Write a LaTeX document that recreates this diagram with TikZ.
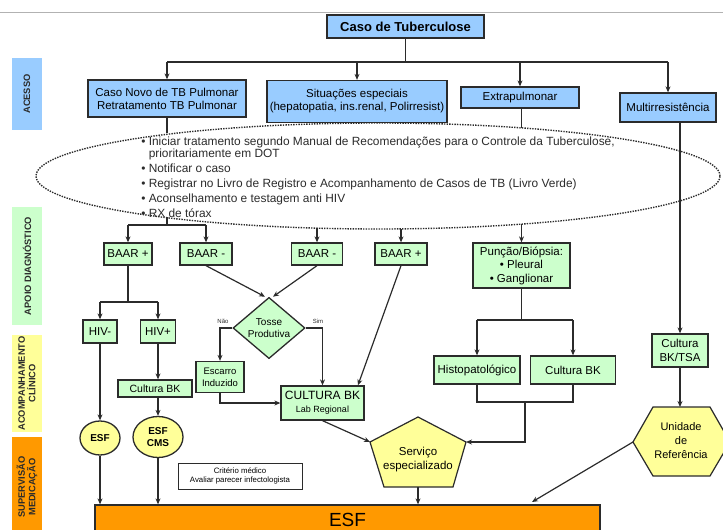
\documentclass[tikz,border=0pt]{standalone}
\usepackage{fontspec}
\setmainfont{Liberation Sans}
\usetikzlibrary{shapes.geometric, arrows.meta, calc}

\definecolor{azul}{HTML}{99CCFF}
\definecolor{verde}{HTML}{CCFFCC}
\definecolor{amarelo}{HTML}{FFFF99}
\definecolor{laranja}{HTML}{FF9900}
\definecolor{traco}{HTML}{2B2B2B}

\begin{document}
\begin{tikzpicture}[x=1pt, y=-1pt,
    caixa/.style={draw=traco, line width=1.3pt, inner sep=0pt, align=center,
        font=\fontsize{11.5}{13}\selectfont},
    acesso/.style={caixa, fill=azul},
    apoio/.style={caixa, fill=verde},
    bolha/.style={draw=traco, line width=1.3pt, ellipse, fill=amarelo, inner sep=0pt,
        align=center, font=\fontsize{10}{12}\selectfont\bfseries},
    faixa/.style={rotate=90, inner sep=0pt, minimum height=30pt, align=center,
        text=traco, font=\fontsize{9.3}{10.5}\selectfont\bfseries},
    linha/.style={draw=traco, line width=1.2pt},
    seta/.style={linha, -{Stealth[length=6pt, width=5pt]}},
    pontos/.style={draw=traco, line width=1.4pt, dash pattern=on 1.4pt off 1.2pt}
]
        % Moldura
        \useasboundingbox (0,0) rectangle (723,530);
        \clip (0,0) rectangle (723,530);
        \draw[gray!60, line width=0.8pt] (0,12) -- (723,12);

        % Faixas laterais
        \node[faixa, fill=azul, minimum width=72pt] (facesso) at (27,94) {ACESSO};
        \node[faixa, fill=verde, minimum width=118pt] (fapoio) at (27,266) {APOIO DIAGNÓSTICO};
        \node[faixa, fill=amarelo, minimum width=97pt] (facomp) at (27,383.5) {ACOMPANHAMENTO\\CLÍNICO};
        \node[faixa, fill=laranja, minimum width=100pt] (fsuperv) at (27,487) {SUPERVISÃO\\MEDICAÇÃO};

        % Acesso
        \node[acesso, font=\fontsize{13}{14}\selectfont\bfseries, minimum width=157pt, minimum height=23pt] (topo) at (405.5,26.5) {Caso de Tuberculose};
        \node[acesso, minimum width=158pt, minimum height=37pt] (cnovo) at (167,98.5) {Caso Novo de TB Pulmonar\\Retratamento TB Pulmonar};
        \node[acesso, minimum width=180pt, minimum height=42pt] (sitesp) at (357,101.5) {Situações especiais\\(hepatopatia, ins.renal, Polirresist)};
        \node[acesso, minimum width=118pt, minimum height=21pt] (extra) at (520,97.5) {Extrapulmonar};
        \node[acesso, minimum width=96pt, minimum height=29pt] (multi) at (668,107.5) {Multirresistência};

        \coordinate (barra) at (0,62);
        \draw[linha] (topo.south) -- (topo.south |- barra);
        \draw[linha] (cnovo |- barra) -- (multi |- barra);
        \foreach \n in {cnovo,sitesp,extra,multi}
            \draw[seta] (\n |- barra) -- (\n.north);

        % Condutas
        \node[ellipse, pontos, minimum width=684pt, minimum height=106pt, inner sep=0pt, outer sep=0pt] (acoes) at (378,176) {};
        \node[align=left, text=traco, font=\fontsize{11.9}{15}\selectfont] (lista) at (378,177) {%
            \textbullet\ Iniciar tratamento segundo Manual de Recomendações para o Controle da Tuberculose,\\[-3pt]
            \hphantom{\textbullet\ }prioritariamente em DOT\\
            \textbullet\ Notificar o caso\\
            \textbullet\ Registrar no Livro de Registro e Acompanhamento de Casos de TB (Livro Verde)\\
            \textbullet\ Aconselhamento e testagem anti HIV\\
            \textbullet\ RX de tórax};

        % Apoio diagnostico
        \node[apoio, minimum width=48pt, minimum height=22pt] (baar1) at (128,254) {BAAR +};
        \node[apoio, minimum width=52pt, minimum height=22pt] (baar2) at (206,254) {BAAR -};
        \node[apoio, minimum width=51pt, minimum height=22pt] (baar3) at (317,254) {BAAR -};
        \node[apoio, minimum width=52pt, minimum height=22pt] (baar4) at (401,254) {BAAR +};
        \node[apoio, minimum width=97pt, minimum height=45pt, font=\fontsize{11.5}{13.5}\selectfont] (puncao) at (521.5,265.5) {Punção/Biópsia:\\\textbullet\ Pleural\\\textbullet\ Ganglionar};
        \node[apoio, diamond, minimum width=72pt, minimum height=50pt, font=\fontsize{10}{12}\selectfont] (tosse) at (269,328) {Tosse\\Produtiva};
        \node[font=\fontsize{6}{7}\selectfont, text=traco] (nao) at (223,321) {Não};
        \node[font=\fontsize{6}{7}\selectfont, text=traco] (sim) at (318,321) {Sim};

        \draw[linha] (extra.south -| puncao) -- (puncao |- acoes.18.1);
        \draw[linha] (cnovo.south) -- (cnovo |- acoes.168.6);
        \coordinate (baarbar) at (0,225);
        \draw[linha] (cnovo |- acoes.191.4) -- (cnovo |- baarbar);
        \draw[linha] (baar1 |- baarbar) -- (baar2 |- baarbar);
        \draw[seta] (baar1 |- baarbar) -- (baar1.north);
        \draw[seta] (baar2 |- baarbar) -- (baar2.north);
        \draw[seta] (baar3 |- acoes.222) -- (baar3.north);
        \draw[seta] (baar4 |- acoes.296.2) -- (baar4.north);
        \draw[seta] (puncao |- acoes.341.9) -- (puncao.north);

        % Acompanhamento clinico
        \node[apoio, minimum width=34pt, minimum height=23pt] (hivn) at (100,331.5) {HIV-};
        \node[apoio, minimum width=35pt, minimum height=23pt] (hivp) at (158,331.5) {HIV+};
        \node[apoio, minimum width=74pt, minimum height=17pt, font=\fontsize{10.5}{12}\selectfont] (cbk1) at (155,388.5) {Cultura BK};
        \node[apoio, minimum width=48pt, minimum height=31pt, font=\fontsize{9.5}{12}\selectfont] (escarro) at (220,377) {Escarro\\Induzido};
        \node[apoio, minimum width=83pt, minimum height=34pt] (clab) at (322.5,403) {{\fontsize{12}{13}\selectfont CULTURA BK}\\{\fontsize{9}{10}\selectfont Lab Regional}};
        \node[apoio, minimum width=86pt, minimum height=28pt] (histo) at (477,370) {Histopatológico};
        \node[apoio, minimum width=85pt, minimum height=28pt] (cbk2) at (573,370) {Cultura BK};
        \node[apoio, minimum width=56pt, minimum height=33pt, font=\fontsize{11.5}{14}\selectfont] (tsa) at (680,350.5) {Cultura\\BK/TSA};
        \node[bolha, minimum width=40pt, minimum height=34pt] (esf1) at (100,438) {ESF};
        \node[bolha, minimum width=50pt, minimum height=41pt] (esf2) at (158,437) {ESF\\CMS};
        \node[draw=traco, line width=0.9pt, minimum width=124pt, minimum height=26pt, align=center, font=\fontsize{7.8}{9}\selectfont] (nota) at (240,476) {Critério médico\\Avaliar parecer infectologista};

        % Servico especializado
        \coordinate (pTopo) at (418,417);
        \coordinate (pDir) at (466,442);
        \coordinate (pBd) at (453,487);
        \coordinate (pBe) at (384,487);
        \coordinate (pEsq) at (370,442);
        \coordinate (pBase) at (418,487);
        \draw[linha, fill=amarelo] (pTopo) -- (pDir) -- (pBd) -- (pBe) -- (pEsq) -- cycle;
        \node[align=center, font=\fontsize{11.5}{14}\selectfont] (servico) at (418,460) {Serviço\\especializado};

        % Unidade de referencia
        \coordinate (hEsq) at (633,442);
        \coordinate (hTopo) at (680,407);
        \draw[linha, fill=amarelo] (hEsq) -- (653,407) -- (710,407) -- (730,442) -- (710,476) -- (653,476) -- cycle;
        \node[align=center, font=\fontsize{11}{14}\selectfont] (uref) at (681,441) {Unidade\\de\\Referência};

        \coordinate (hivbar) at (0,302);
        \draw[linha] (baar1.south) -- (baar1 |- hivbar);
        \draw[linha] (hivn |- hivbar) -- (hivp |- hivbar);
        \draw[seta] (hivn |- hivbar) -- (hivn.north);
        \draw[seta] (hivp |- hivbar) -- (hivp.north);
        \draw[seta] (baar2.south) -- ([xshift=-4pt]tosse.north);
        \draw[seta] (baar3.south) -- ([xshift=4pt]tosse.north);
        \draw[seta] (tosse.west) -| (escarro.north);
        \draw[seta] (tosse.east) -| (clab.north);
        \draw[seta] (escarro.south) |- (clab.west);
        \draw[seta] (baar4.south) -- ($(clab.north east)!0.08!(clab.north west)$);
        \draw[seta] (hivp.south) -- (hivp |- cbk1.north);
        \draw[seta] (hivp |- cbk1.south) -- (esf2.north);
        \draw[seta] (hivn.south) -- (esf1.north);

        \coordinate (histbar) at (0,320);
        \coordinate (junta) at (0,402);
        \coordinate (meio) at ($(histo.south)!0.5!(cbk2.south)$);
        \draw[linha] (puncao.south) -- (puncao |- histbar);
        \draw[linha] (histo |- histbar) -- (cbk2 |- histbar);
        \draw[seta] (histo |- histbar) -- (histo.north);
        \draw[seta] (cbk2 |- histbar) -- (cbk2.north);
        \draw[linha] (histo.south) |- (cbk2 |- junta) -- (cbk2.south);
        \draw[seta] (meio |- junta) |- (pDir);
        \draw[seta] (clab.south) -- (pEsq);
        \draw[seta] (tsa |- multi.south) -- (tsa.north);
        \draw[seta] (tsa.south) -- (hTopo);

        % Supervisao
        \node[draw=traco, line width=1.3pt, fill=laranja, minimum width=505pt, minimum height=30pt, font=\fontsize{19}{20}\selectfont] (esfbar) at (347.5,520) {ESF};
        \coordinate (alvo) at (532,502);
        \draw[seta] (esf1.south) -- (esf1 |- esfbar.north);
        \draw[seta] (esf2.south) -- (esf2 |- esfbar.north);
        \draw[seta] (pBase) -- (pBase |- esfbar.north);
        \draw[seta] (hEsq) -- (alvo);

    \end{tikzpicture}
\end{document}
